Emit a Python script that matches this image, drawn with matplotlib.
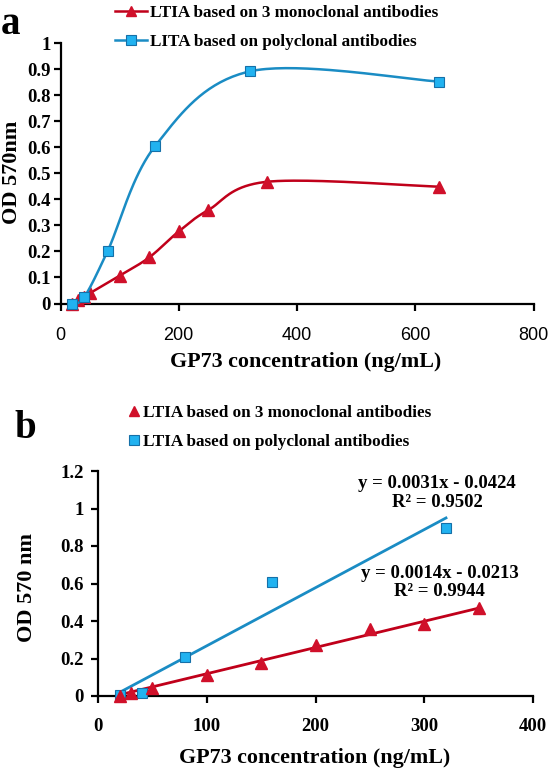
import numpy as np
import matplotlib
matplotlib.use("Agg")
import matplotlib.pyplot as plt
from matplotlib.lines import Line2D

# ---------------- data ----------------
# Panel a
a_mono_x = [20, 30, 40, 50, 100, 150, 200, 250, 350, 640]
a_mono_y = [0.0, 0.013, 0.025, 0.04, 0.107, 0.177, 0.277, 0.359, 0.468, 0.449]
a_poly_x = [20, 40, 80, 160, 320, 640]
a_poly_y = [0.0, 0.024, 0.203, 0.605, 0.892, 0.853]
a_xticks = [0, 200, 400, 600, 800]
a_yticks = [0, 0.1, 0.2, 0.3, 0.4, 0.5, 0.6, 0.7, 0.8, 0.9, 1]
a_ytick_labels = ["0", "0.1", "0.2", "0.3", "0.4", "0.5", "0.6", "0.7", "0.8", "0.9", "1"]

# Panel b
b_mono_x = [20, 30, 50, 100, 150, 200, 250, 300, 350]
b_mono_y = [0.0, 0.018, 0.044, 0.11, 0.178, 0.272, 0.355, 0.382, 0.468]
b_poly_x = [20, 40, 80, 160, 320]
b_poly_y = [0.005, 0.018, 0.207, 0.609, 0.896]
b_xticks = [0, 100, 200, 300, 400]
b_yticks = [0, 0.2, 0.4, 0.6, 0.8, 1.0, 1.2]
b_ytick_labels = ["0", "0.2", "0.4", "0.6", "0.8", "1", "1.2"]
fit_slopes = [0.0014, 0.0031]        # mono, poly
fit_intercepts = [-0.0213, -0.0424]
fit_texts = ["y = 0.0014x - 0.0213\nR\u00b2 = 0.9944",
             "y = 0.0031x - 0.0424\nR\u00b2 = 0.9502"]

legend_a = ["LTIA based on 3 monoclonal antibodies", "LITA based on polyclonal antibodies"]
legend_b = ["LTIA based on 3 monoclonal antibodies", "LTIA based on polyclonal antibodies"]

# ---------------- style ----------------
RED_LINE = "#C0001A"
RED_MK = "#D0102A"
BLUE_LINE = "#1A8CC4"
BLUE_MK = "#21B2F0"
BLUE_EDGE = "#1570A8"
SERIF = ["Liberation Serif", "DejaVu Serif"]
SANS = ["Liberation Sans", "DejaVu Sans"]

W, H = 550, 773


def catmull_rom(xs, ys, sx, sy, n=40):
    P = np.column_stack([np.asarray(xs, float) * sx, np.asarray(ys, float) * sy])
    P = np.vstack([P[0], P, P[-1]])
    out = []
    t = np.linspace(0, 1, n)[:, None]
    for i in range(1, len(P) - 2):
        p0, p1, p2, p3 = P[i - 1], P[i], P[i + 1], P[i + 2]
        seg = 0.5 * ((2 * p1) + (-p0 + p2) * t + (2 * p0 - 5 * p1 + 4 * p2 - p3) * t ** 2
                     + (-p0 + 3 * p1 - 3 * p2 + p3) * t ** 3)
        out.append(seg if i == 1 else seg[1:])
    out = np.vstack(out)
    return out[:, 0] / sx, out[:, 1] / sy


def style_axes(ax):
    for s in ["top", "right"]:
        ax.spines[s].set_visible(False)
    for s in ["left", "bottom"]:
        ax.spines[s].set_linewidth(1.6)
        ax.spines[s].set_color("black")
    ax.tick_params(direction="out", length=5, width=1.6, colors="black")


fig = plt.figure(figsize=(W / 100, H / 100), dpi=100)

# ---------------- panel a ----------------
axa = fig.add_axes([60.5 / W, 1 - 303.5 / H, 473 / W, 260.2 / H])
style_axes(axa)
axa.set_xlim(0, 800)
axa.set_ylim(0, 1)
sx, sy = 473 / 800, 260.2 / 1.0
cx, cy = catmull_rom(a_mono_x, a_mono_y, sx, sy)
axa.plot(cx, cy, color=RED_LINE, lw=1.8, zorder=2, clip_on=False)
axa.plot(a_mono_x, a_mono_y, ls="none", marker="^", ms=8, mfc=RED_MK, mec=RED_MK,
         zorder=3, clip_on=False)
cx, cy = catmull_rom(a_poly_x, a_poly_y, sx, sy)
axa.plot(cx, cy, color=BLUE_LINE, lw=1.8, zorder=4, clip_on=False)
axa.plot(a_poly_x, a_poly_y, ls="none", marker="s", ms=6.5, mfc=BLUE_MK, mec=BLUE_EDGE,
         mew=0.8, zorder=5, clip_on=False)
axa.set_xticks(a_xticks)
axa.set_xticklabels([str(v) for v in a_xticks], fontfamily=SANS, fontsize=13)
axa.set_yticks(a_yticks)
axa.set_yticklabels(a_ytick_labels, fontfamily=SERIF, fontweight="bold", fontsize=13.5)
axa.tick_params(axis="x", pad=12)
axa.tick_params(axis="y", pad=2)

fig.text(12 / W, 1 - 172 / H, "OD 570nm", rotation=90, ha="center", va="center",
         fontfamily=SERIF, fontweight="bold", fontsize=16)
fig.text(306 / W, 1 - 362 / H, "GP73 concentration (ng/mL)", ha="center", va="center",
         fontfamily=SERIF, fontweight="bold", fontsize=15.8)
fig.text(10 / W, 1 - 25 / H, "a", ha="center", va="center",
         fontfamily=SERIF, fontweight="bold", fontsize=28)

h_a = [Line2D([], [], color=RED_LINE, lw=1.8, marker="^", ms=7.5, mfc=RED_MK, mec=RED_MK),
       Line2D([], [], color=BLUE_LINE, lw=1.8, marker="s", ms=6.5, mfc=BLUE_MK, mec=BLUE_EDGE, mew=0.8)]
fig.legend(h_a, legend_a, loc="upper left", bbox_to_anchor=(115 / W, 1 - 5 / H),
           frameon=False, borderpad=0, borderaxespad=0, handlelength=1.9, handletextpad=0.15,
           labelspacing=0.75, prop={"family": SERIF, "weight": "bold", "size": 12.3})

# ---------------- panel b ----------------
axb = fig.add_axes([98 / W, 1 - 696 / H, 435 / W, 225 / H])
style_axes(axb)
axb.set_xlim(0, 400)
axb.set_ylim(0, 1.2)
series = [(b_mono_x, b_mono_y, RED_LINE), (b_poly_x, b_poly_y, BLUE_LINE)]
for (xs, ys, col), m, c in zip(series, fit_slopes, fit_intercepts):
    xr = np.array([min(xs), max(xs)], float)
    axb.plot(xr, m * xr + c, color=col, lw=2.0, zorder=2)
axb.plot(b_poly_x, b_poly_y, ls="none", marker="s", ms=7.4, mfc=BLUE_MK, mec=BLUE_EDGE,
         mew=0.8, zorder=3, clip_on=False)
axb.plot(b_mono_x, b_mono_y, ls="none", marker="^", ms=8.5, mfc=RED_MK, mec=RED_MK,
         zorder=4, clip_on=False)
axb.set_xticks(b_xticks)
axb.set_xticklabels([str(v) for v in b_xticks], fontfamily=SERIF, fontweight="bold", fontsize=13.5)
axb.set_yticks(b_yticks)
axb.set_yticklabels(b_ytick_labels, fontfamily=SERIF, fontweight="bold", fontsize=13.5)
axb.tick_params(axis="x", pad=11)
axb.tick_params(axis="y", pad=5)

axb.text(314, 0.605, fit_texts[0], ha="center", va="center", linespacing=1.12,
         fontfamily=SERIF, fontweight="bold", fontsize=13.5)
axb.text(312, 1.083, fit_texts[1], ha="center", va="center", linespacing=1.12,
         fontfamily=SERIF, fontweight="bold", fontsize=13.5)

fig.text(27 / W, 1 - 588 / H, "OD 570 nm", rotation=90, ha="center", va="center",
         fontfamily=SERIF, fontweight="bold", fontsize=16)
fig.text(315 / W, 1 - 758 / H, "GP73 concentration (ng/mL)", ha="center", va="center",
         fontfamily=SERIF, fontweight="bold", fontsize=15.8)
fig.text(25 / W, 1 - 428 / H, "b", ha="center", va="center",
         fontfamily=SERIF, fontweight="bold", fontsize=28)

h_b = [Line2D([], [], ls="none", marker="^", ms=7, mfc=RED_MK, mec=RED_MK),
       Line2D([], [], ls="none", marker="s", ms=6.5, mfc=BLUE_MK, mec=BLUE_EDGE, mew=0.8)]
fig.legend(h_b, legend_b, loc="upper left", bbox_to_anchor=(128 / W, 1 - 405 / H),
           frameon=False, borderpad=0, borderaxespad=0, handlelength=0.7, handletextpad=0.2,
           labelspacing=0.75, prop={"family": SERIF, "weight": "bold", "size": 12.3})

fig.savefig("out.png", dpi=100)
